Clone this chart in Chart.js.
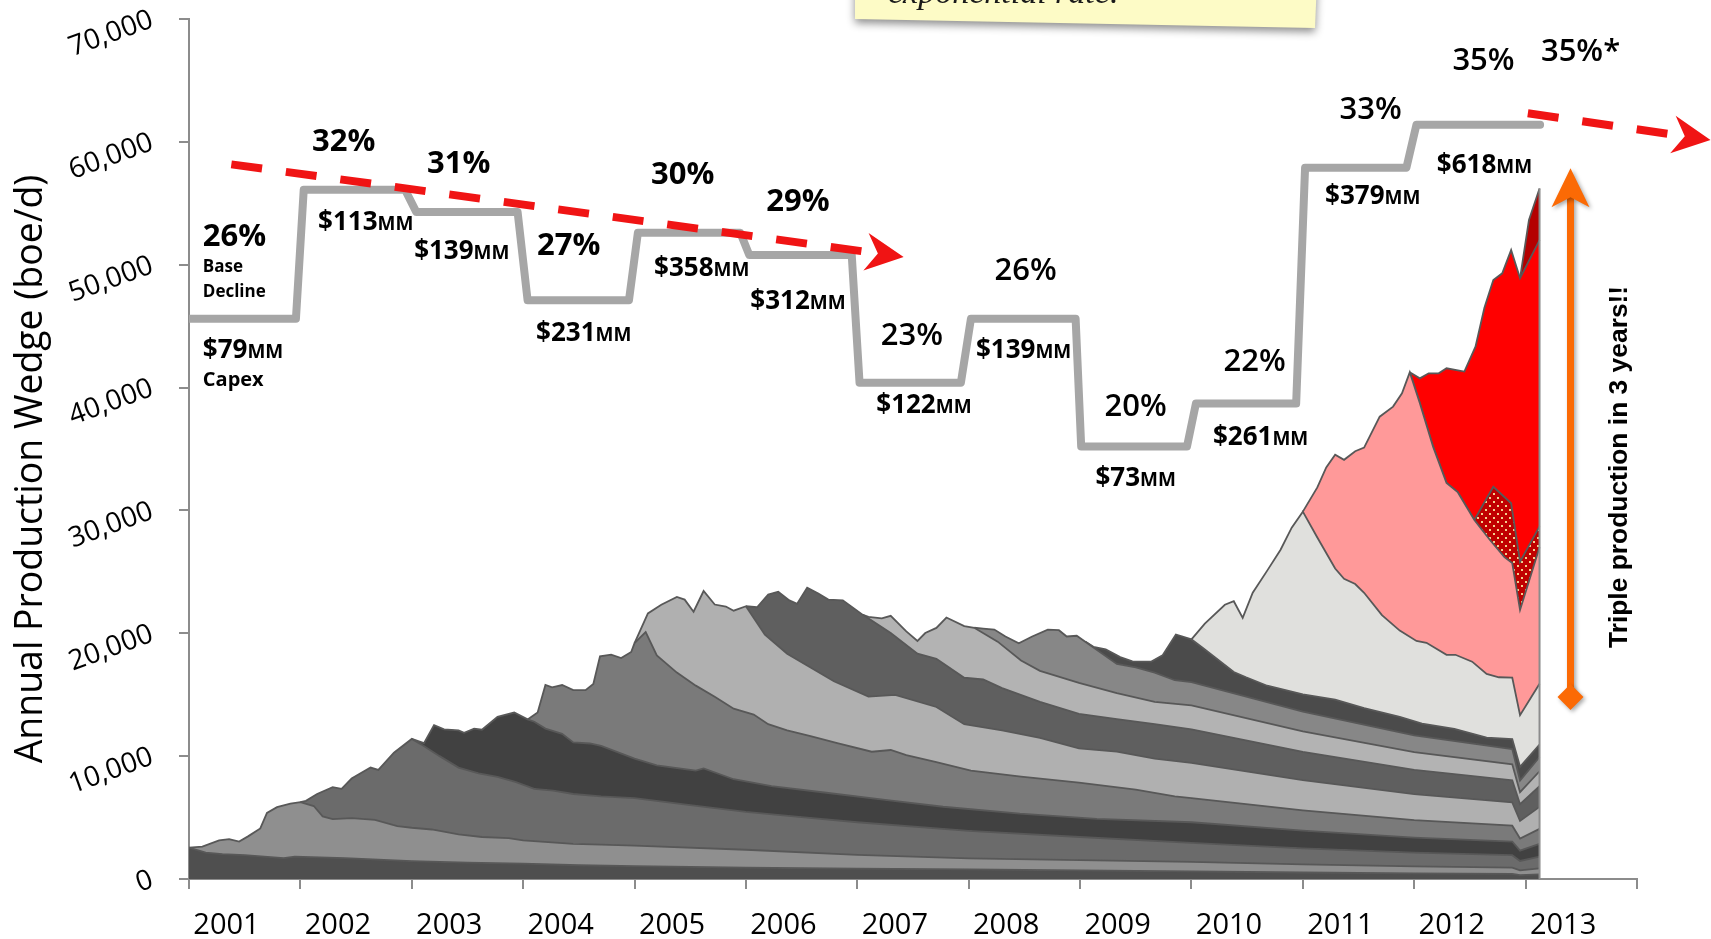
<!DOCTYPE html>
<html>
<head>
<meta charset="utf-8">
<script src="https://cdn.jsdelivr.net/npm/chart.js@4.4.1/dist/chart.umd.min.js"></script>
<style>
html,body{margin:0;padding:0;background:#ffffff;overflow:hidden;}
canvas{display:block;}
</style>
</head>
<body>
<canvas id="chart" width="1711" height="939"></canvas>
<script>
// ---------------- DATA ----------------
const yearLabels = ['2001','2002','2003','2004','2005','2006','2007','2008','2009','2010','2011','2012','2013'];
const declinePct = ['26%','32%','31%','27%','30%','29%','23%','26%','20%','22%','33%','35%'];
const forecastPct = '35%*';
const capexMM = ['$79','$113','$139','$231','$358','$312','$122','$139','$73','$261','$379','$618'];

// base decline step line [year, boe/d]
const baseDecline = [[2001.0,45600],[2001.96,45600],[2002.03,56100],[2002.94,56100],[2003.04,54300],[2003.95,54300],[2004.04,47100],[2004.95,47100],[2005.03,52600],[2005.95,52600],[2006.03,50800],[2006.95,50800],[2007.02,40400],[2007.93,40400],[2008.02,45600],[2008.96,45600],[2009.01,35200],[2009.96,35200],[2010.04,38700],[2010.94,38700],[2011.02,57900],[2011.93,57900],[2012.02,61400],[2013.13,61400]];

// cumulative production through each vintage [year, boe/d]
const prodBase = [[2001.0,2550],[2001.15,2150],[2001.3,2020],[2001.5,1950],[2001.85,1700],[2001.95,1820],[2002.4,1700],[2003.0,1450],[2003.5,1330],[2004.0,1250],[2004.5,1120],[2005.0,1040],[2006.0,920],[2007.0,840],[2008.0,780],[2009.0,700],[2010.0,620],[2011.0,530],[2012.0,450],[2012.88,410],[2012.95,310],[2013.125,380]];
const prod2001 = [[2001.0,2550],[2001.12,2630],[2001.27,3140],[2001.36,3250],[2001.45,3050],[2001.53,3470],[2001.64,4120],[2001.7,5380],[2001.79,5850],[2001.91,6130],[2002.0,6250],[2002.12,5940],[2002.2,5100],[2002.29,4870],[2002.46,4960],[2002.67,4820],[2002.87,4310],[2003.0,4170],[2003.18,4030],[2003.42,3640],[2003.63,3420],[2003.87,3330],[2004.0,3140],[2004.45,2860],[2004.7,2800],[2005.0,2720],[2006.0,2380],[2007.0,1960],[2008.0,1680],[2009.0,1540],[2010.0,1400],[2011.0,1190],[2012.0,1020],[2012.88,920],[2012.95,700],[2013.125,870]];
const prod2002 = [[2002.0,6250],[2002.05,6360],[2002.15,6920],[2002.29,7480],[2002.37,7340],[2002.46,8180],[2002.63,9070],[2002.7,8880],[2002.84,10280],[2003.0,11400],[2003.08,10980],[2003.25,10000],[2003.42,9070],[2003.6,8600],[2003.77,8320],[2003.93,7900],[2004.1,7340],[2004.27,7200],[2004.45,6920],[2004.7,6720],[2005.0,6580],[2005.5,6020],[2006.0,5460],[2006.5,5040],[2007.0,4620],[2008.0,3920],[2009.0,3420],[2010.0,2940],[2011.0,2500],[2012.0,2150],[2012.88,1940],[2012.95,1470],[2013.125,1820]];
const prod2003 = [[2003.0,11400],[2003.11,11060],[2003.2,12520],[2003.29,12180],[2003.42,12100],[2003.47,11900],[2003.56,12240],[2003.63,12150],[2003.77,13200],[2003.92,13550],[2004.04,12990],[2004.1,12800],[2004.2,12240],[2004.35,11820],[2004.45,11120],[2004.6,11030],[2004.7,10840],[2005.0,9800],[2005.2,9240],[2005.55,8820],[2005.62,9000],[2005.89,8120],[2006.23,7560],[2006.74,7000],[2007.25,6440],[2007.77,5880],[2008.46,5320],[2009.15,4900],[2010.0,4620],[2011.0,3930],[2012.0,3370],[2012.88,3050],[2012.95,2310],[2013.125,2860]];
const prod2004 = [[2004.04,12990],[2004.13,13550],[2004.2,15790],[2004.26,15600],[2004.35,15790],[2004.45,15370],[2004.56,15370],[2004.63,15880],[2004.69,18120],[2004.79,18260],[2004.88,17980],[2004.97,18480],[2005.0,19200],[2005.1,20100],[2005.2,18200],[2005.38,16800],[2005.55,15740],[2005.72,14840],[2005.89,13860],[2006.07,13380],[2006.2,12600],[2006.37,12100],[2006.58,11620],[2006.82,11060],[2007.13,10360],[2007.3,10500],[2007.44,10080],[2007.71,9520],[2008.02,8820],[2008.47,8340],[2008.99,7840],[2009.5,7280],[2009.85,6720],[2010.0,6580],[2011.0,5590],[2012.0,4800],[2012.88,4340],[2012.95,3290],[2013.125,4080]];
const prod2005 = [[2005.0,19200],[2005.12,21620],[2005.24,22320],[2005.38,22960],[2005.45,22740],[2005.53,21760],[2005.62,23440],[2005.72,22340],[2005.82,22180],[2005.89,21840],[2006.0,22200],[2006.17,19880],[2006.37,18340],[2006.58,17220],[2006.79,16100],[2007.1,14840],[2007.34,14980],[2007.71,14000],[2007.96,12600],[2008.3,12100],[2008.64,11480],[2008.99,10640],[2009.33,10360],[2009.67,9800],[2010.0,9460],[2011.0,8040],[2012.0,6910],[2012.88,6240],[2012.95,4730],[2013.125,5870]];
const prod2006 = [[2006.0,22200],[2006.1,22120],[2006.2,23160],[2006.29,23380],[2006.39,22680],[2006.46,22400],[2006.55,23720],[2006.65,23240],[2006.74,22740],[2006.87,22680],[2007.05,21500],[2007.3,20020],[2007.54,18340],[2007.71,17920],[2007.96,16380],[2008.13,16240],[2008.3,15540],[2008.64,14420],[2008.99,13440],[2009.33,13020],[2009.67,12600],[2010.0,12180],[2011.0,10350],[2012.0,8890],[2012.88,8040],[2012.95,6090],[2013.125,7550]];
const prod2007 = [[2007.05,21500],[2007.1,21340],[2007.22,21220],[2007.3,21420],[2007.44,20160],[2007.54,19380],[2007.61,20020],[2007.71,20440],[2007.8,21280],[2007.96,20580],[2008.05,20450],[2008.26,19320],[2008.47,17780],[2008.64,16940],[2008.99,15960],[2009.33,15120],[2009.67,14420],[2010.0,14140],[2011.0,12020],[2012.0,10320],[2012.88,9330],[2012.95,7070],[2013.125,8770]];
const prod2008 = [[2008.05,20450],[2008.13,20380],[2008.23,20300],[2008.33,19740],[2008.45,19180],[2008.57,19740],[2008.71,20300],[2008.81,20250],[2008.88,19740],[2008.97,19800],[2009.05,19300],[2009.33,17500],[2009.5,17220],[2009.67,16800],[2009.85,16180],[2010.0,16020],[2011.0,13620],[2012.0,11690],[2012.88,10570],[2012.95,8010],[2013.125,9930]];
const prod2009 = [[2009.05,19300],[2009.12,18900],[2009.23,18700],[2009.36,18060],[2009.47,17720],[2009.64,17700],[2009.74,18200],[2009.86,19900],[2010.0,19500],[2010.1,18820],[2010.38,16850],[2010.49,16420],[2010.68,15730],[2011.0,15030],[2011.29,14600],[2011.55,13900],[2011.87,13200],[2012.07,12640],[2012.36,12220],[2012.65,11510],[2012.88,11380],[2012.95,9130],[2013.125,10950]];
const prod2010 = [[2010.0,19500],[2010.12,20780],[2010.3,22320],[2010.38,22610],[2010.46,21260],[2010.55,23300],[2010.68,25100],[2010.8,26800],[2010.9,28600],[2011.0,29900],[2011.13,27800],[2011.29,25270],[2011.37,24430],[2011.47,24010],[2011.55,23300],[2011.71,21480],[2011.87,20220],[2012.02,19380],[2012.11,19230],[2012.29,18250],[2012.37,18250],[2012.52,17690],[2012.65,16700],[2012.76,16420],[2012.88,16400],[2012.95,13340],[2013.125,15900]];
const prod2011 = [[2011.0,29900],[2011.13,31870],[2011.21,33500],[2011.29,34540],[2011.37,34120],[2011.47,34820],[2011.55,35110],[2011.69,37630],[2011.81,38450],[2011.89,39530],[2011.96,41240],[2012.05,38750],[2012.17,35170],[2012.29,32230],[2012.39,31500],[2012.54,29220],[2012.68,27590],[2012.81,26200],[2012.88,25720],[2012.95,21900],[2013.125,27000]];
const prod2012Acq = [[2012.54,29220],[2012.71,31930],[2012.87,30580],[2012.95,25830],[2013.125,28700]];
const prod2012 = [[2011.96,41240],[2012.05,40750],[2012.13,41160],[2012.22,41160],[2012.29,41570],[2012.45,41300],[2012.55,43330],[2012.63,46500],[2012.71,48760],[2012.79,49300],[2012.87,51200],[2012.95,48900],[2013.125,52000]];
const prod2013 = [[2012.95,48900],[2013.03,53640],[2013.125,56200]];

// ---------------- BUILD ----------------
function dotPattern(){
  const c=document.createElement('canvas'); c.width=8; c.height=8;
  const g=c.getContext('2d');
  g.fillStyle='#c00000'; g.fillRect(0,0,8,8);
  g.fillStyle='#f3d08e'; g.fillRect(1,1,2,2); g.fillRect(5,5,2,2);
  return g.createPattern(c,'repeat');
}
const toXY = a => a.map(p => ({x:p[0], y:p[1]}));
const acqStart = prod2012Acq[0][0];
const acqFull = prod2011.filter(p => p[0] >= prod2012[0][0] && p[0] < acqStart).concat(prod2012Acq);

const areaSeries = [
  [prodBase,'#4f4f4f'],[prod2001,'#8f8f8f'],[prod2002,'#6b6b6b'],[prod2003,'#414141'],
  [prod2004,'#7a7a7a'],[prod2005,'#b0b0b0'],[prod2006,'#5f5f5f'],[prod2007,'#b3b3b3'],
  [prod2008,'#878787'],[prod2009,'#4b4b4b'],[prod2010,'#e0e0dd'],[prod2011,'#ff9999'],
  [acqFull, dotPattern()],[prod2012,'#ff0000'],[prod2013,'#b40000']
];
const datasets = areaSeries.map(([pts,col],i)=>({
  data: toXY(pts), backgroundColor: col, borderColor:'#585858', borderWidth:1.8,
  fill: i===0 ? 'origin' : '-1', pointRadius:0, tension:0, order:10
}));
const last = prod2013[prod2013.length-1];
datasets.push({data:[{x:last[0],y:0},{x:last[0],y:last[1]}], borderColor:'#8c8c8c', borderWidth:2, pointRadius:0, fill:false, order:5});
datasets.push({data: toXY(baseDecline), borderColor:'#a6a6a6', borderWidth:8, pointRadius:0, fill:false, tension:0,
  borderCapStyle:'round', borderJoinStyle:'round', order:-1});

// annotation positions in data units [year, boe/d]
const pctPos = [[2001.124,52260],[2002.389,59990],[2003.422,58200],[2004.409,51530],[2005.433,57300],[2006.467,55100],[2007.490,44200],[2008.511,49490],[2009.499,38420],[2010.567,42080],[2011.609,62600],[2012.622,66590]];
const forecastPos = [2013.493,67320];
const capexPos = [[2001.124,43140],[2002.587,53560],[2003.449,51200],[2004.544,44530],[2005.603,49820],[2006.467,47130],[2007.598,38670],[2008.493,43140],[2009.499,32720],[2010.621,36060],[2011.627,55680],[2012.631,58210]];
const trendArrows = [[2001.38,58170,2007.416,50630],[2013.02,62330,2014.66,60150]];
const tripleArrow = {x:2013.403, top:57850, bottom:14810};

const FAM = '"Open Sans", "DejaVu Sans", sans-serif';

function dashedArrow(ctx,x0,y0,x1,y1){
  const ang=Math.atan2(y1-y0,x1-x0), L=38, H=19, N=26;
  const ex=x1-Math.cos(ang)*N, ey=y1-Math.sin(ang)*N;
  ctx.save();
  ctx.strokeStyle='#f01414'; ctx.fillStyle='#f01414'; ctx.lineWidth=8; ctx.lineCap='butt';
  ctx.setLineDash([31,24]);
  ctx.beginPath(); ctx.moveTo(x0,y0); ctx.lineTo(ex,ey); ctx.stroke();
  ctx.setLineDash([]);
  ctx.translate(x1,y1); ctx.rotate(ang);
  ctx.beginPath(); ctx.moveTo(0,0); ctx.lineTo(-L,-H); ctx.lineTo(-N,0); ctx.lineTo(-L,H); ctx.closePath(); ctx.fill();
  ctx.restore();
}
function moneyLabel(ctx,txt,x,y,align){
  const f1='bold 26px '+FAM, f2='bold 19px '+FAM;
  ctx.font=f1; const w1=ctx.measureText(txt).width;
  ctx.font=f2; const w2=ctx.measureText('MM').width;
  const x0 = align==='left' ? x : x-(w1+w2)/2;
  const base = y+9.3;
  ctx.textAlign='left'; ctx.textBaseline='alphabetic';
  ctx.font=f1; ctx.fillText(txt,x0,base);
  ctx.font=f2; ctx.fillText('MM',x0+w1,base);
}
function textAt(ctx,txt,x,y,font,align){
  ctx.font=font; ctx.textAlign=align||'center'; ctx.textBaseline='middle'; ctx.fillText(txt,x,y);
}
function fitSize(ctx,txt,weight,fam,target){
  ctx.font=weight+' 100px '+fam; return 100*target/ctx.measureText(txt).width;
}

const annot = {
  id:'annot',
  afterDatasetsDraw(chart){
    const {ctx, scales:{x,y}} = chart;
    const px=v=>x.getPixelForValue(v), py=v=>y.getPixelForValue(v);
    trendArrows.forEach(a=>dashedArrow(ctx,px(a[0]),py(a[1]),px(a[2]),py(a[3])));
    ctx.save(); ctx.fillStyle='#000';
    declinePct.forEach((t,i)=>{
      const [vx,vy]=pctPos[i];
      if(i===0){ textAt(ctx,t,px(vx),py(vy),'bold 31px '+FAM,'left'); return; }
      const w = i<=5 ? 'bold' : '600';
      textAt(ctx,t,px(vx),py(vy),w+' 31px '+FAM,'center');
    });
    textAt(ctx,forecastPct,px(forecastPos[0]),py(forecastPos[1]),'600 31px '+FAM,'center');
    capexMM.forEach((t,i)=>{
      const [vx,vy]=capexPos[i];
      moneyLabel(ctx,t,px(vx),py(vy), i===0?'left':'center');
    });
    const lx=px(pctPos[0][0]);
    textAt(ctx,'Base',lx,py(pctPos[0][1])+30,'bold 17px '+FAM,'left');
    textAt(ctx,'Decline',lx,py(pctPos[0][1])+55,'bold 17px '+FAM,'left');
    textAt(ctx,'Capex',lx,py(capexPos[0][1])+31,'bold 20px '+FAM,'left');
    ctx.restore();
    // orange arrow
    const ox=px(tripleArrow.x), ot=py(tripleArrow.top), ob=py(tripleArrow.bottom);
    ctx.save();
    ctx.shadowColor='rgba(0,0,0,0.35)'; ctx.shadowBlur=4; ctx.shadowOffsetX=2; ctx.shadowOffsetY=2;
    ctx.strokeStyle='#fb6a05'; ctx.fillStyle='#fb6a05'; ctx.lineWidth=7;
    ctx.beginPath(); ctx.moveTo(ox,ot+28); ctx.lineTo(ox,ob); ctx.stroke();
    ctx.beginPath(); ctx.moveTo(ox,ot); ctx.lineTo(ox+19,ot+39); ctx.lineTo(ox,ot+29); ctx.lineTo(ox-19,ot+39); ctx.closePath(); ctx.fill();
    ctx.beginPath(); ctx.moveTo(ox,ob-13); ctx.lineTo(ox+13,ob); ctx.lineTo(ox,ob+13); ctx.lineTo(ox-13,ob); ctx.closePath(); ctx.fill();
    ctx.restore();
    // triple text
    ctx.save();
    const tt='Triple production in 3 years!!';
    const fs=fitSize(ctx,tt,'bold','"Liberation Sans", Arial, sans-serif',362);
    ctx.translate(px(2013.844), py(33540)); ctx.rotate(-Math.PI/2);
    ctx.fillStyle='#000'; ctx.font='bold '+fs.toFixed(1)+'px "Liberation Sans", Arial, sans-serif';
    ctx.textAlign='center'; ctx.textBaseline='middle'; ctx.fillText(tt,0,0);
    ctx.restore();
  },
  afterDraw(chart){
    const ctx=chart.ctx;
    ctx.save();
    const yt='Annual Production Wedge (boe/d)';
    const fs=fitSize(ctx,yt,'normal',FAM,589);
    ctx.translate(31,469); ctx.rotate(-Math.PI/2);
    ctx.fillStyle='#000'; ctx.font='normal '+fs.toFixed(1)+'px '+FAM;
    ctx.textAlign='center'; ctx.textBaseline='middle'; ctx.fillText(yt,0,0);
    ctx.restore();
    // sticky note
    ctx.save();
    ctx.beginPath(); ctx.moveTo(855,-20); ctx.lineTo(1317,-20); ctx.lineTo(1315,28); ctx.lineTo(855,19); ctx.closePath();
    ctx.shadowColor='rgba(0,0,0,0.45)'; ctx.shadowBlur=9; ctx.shadowOffsetY=4;
    ctx.fillStyle='#fdfbc6'; ctx.fill();
    ctx.shadowColor='transparent';
    ctx.clip();
    ctx.fillStyle='#1a1a1a'; ctx.font='italic 34px "Liberation Serif", serif';
    ctx.textAlign='left'; ctx.textBaseline='alphabetic';
    ctx.fillText('exponential rate.',888,3);
    ctx.restore();
  }
};

new Chart(document.getElementById('chart'), {
  type:'line',
  data:{datasets},
  options:{
    responsive:false, animation:false, devicePixelRatio:1, events:[],
    layout:{padding:{top:19,right:74,bottom:0,left:0}},
    plugins:{legend:{display:false}, tooltip:{enabled:false}, title:{display:false}},
    scales:{
      x:{type:'linear', min:2001, max:2014,
        afterFit(s){ s.height=60; s.paddingLeft=0; s.paddingRight=0; },
        border:{color:'#8c8c8c', width:2},
        grid:{drawOnChartArea:false, drawTicks:true, tickLength:10, color:'#8c8c8c', lineWidth:2},
        ticks:{stepSize:1, autoSkip:false, maxRotation:0, minRotation:0, labelOffset:37.5, padding:19,
          color:'#000', font:{family:FAM, size:29},
          callback:(v)=>{ const i=Math.round(v)-2001; return yearLabels[i] !== undefined ? yearLabels[i] : ''; }}
      },
      y:{type:'linear', min:0, max:70000,
        afterFit(s){ s.width=189; s.paddingTop=0; s.paddingBottom=0; },
        border:{color:'#8c8c8c', width:2},
        grid:{drawOnChartArea:false, drawTicks:true, tickLength:10, color:'#8c8c8c', lineWidth:2},
        ticks:{stepSize:10000, minRotation:20, maxRotation:20, padding:27, color:'#000',
          font:{family:FAM, size:28}, callback:v=>v.toLocaleString('en-US')}
      }
    }
  },
  plugins:[annot]
});
</script>
</body>
</html>
